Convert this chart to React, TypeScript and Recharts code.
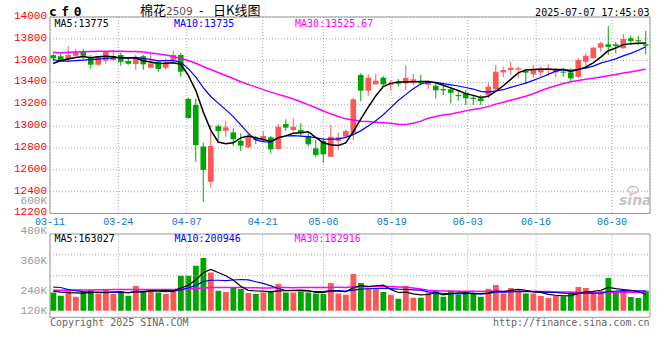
import React from 'react';
import {
  ComposedChart, Bar, Line, XAxis, YAxis, CartesianGrid,
  ReferenceArea, ReferenceLine, Cell,
} from 'recharts';

// ---------------- data ----------------
const dates = [
  '03-11','03-12','03-13','03-14','03-17','03-18','03-19','03-20','03-21','03-24',
  '03-25','03-26','03-27','03-28','03-31','04-01','04-02','04-03','04-07','04-08',
  '04-09','04-10','04-11','04-14','04-15','04-16','04-17','04-18','04-21','04-22',
  '04-23','04-24','04-25','04-28','04-29','04-30','05-06','05-07','05-08','05-09',
  '05-12','05-13','05-14','05-15','05-16','05-19','05-20','05-21','05-22','05-23',
  '05-26','05-27','05-28','05-29','05-30','06-03','06-04','06-05','06-06','06-09',
  '06-10','06-11','06-12','06-13','06-16','06-17','06-18','06-19','06-20','06-23',
  '06-24','06-25','06-26','06-27','06-30','07-01','07-02','07-03','07-04','07-07',
];

const openPrices = [
  13650,13640,13615,13645,13689,13627,13563,13600,13606,13652,
  13597,13569,13640,13535,13590,13535,13609,13652,13249,13194,
  12814,12491,13000,12958,12943,12867,12805,12890,12882,12898,
  12791,13020,12965,12965,12910,12797,12865,12720,12867,12905,
  12940,13469,13325,13383,13444,13380,13407,13392,13398,13413,
  13380,13370,13340,13338,13285,13301,13260,13255,13285,13340,
  13493,13514,13517,13505,13475,13493,13521,13493,13499,13493,
  13453,13590,13622,13719,13750,13750,13713,13805,13787,13750,
];
const highPrices = [
  13668,13667,13734,13707,13707,13652,13643,13689,13698,13673,
  13622,13652,13652,13661,13600,13622,13689,13670,13261,13255,
  12848,13011,13015,13047,12980,12935,12935,12910,12955,12910,
  13020,13063,13072,13026,12935,12873,12894,13011,12940,12971,
  13260,13484,13475,13478,13459,13423,13432,13560,13478,13469,
  13420,13398,13377,13361,13325,13331,13285,13285,13398,13560,
  13545,13590,13545,13510,13560,13545,13567,13530,13535,13530,
  13627,13667,13728,13774,13918,13774,13844,13829,13829,13872,
];
const lowPrices = [
  13600,13590,13585,13636,13612,13526,13554,13572,13600,13554,
  13563,13517,13517,13535,13499,13517,13590,13453,13068,12674,
  12308,12436,12870,12903,12818,12772,12800,12834,12852,12751,
  12785,12958,12944,12910,12818,12715,12665,12715,12781,12900,
  12873,13230,13279,13383,13361,13325,13361,13331,13377,13377,
  13340,13255,13285,13209,13233,13194,13194,13194,13255,13331,
  13448,13469,13444,13385,13444,13453,13462,13448,13453,13414,
  13444,13530,13619,13682,13652,13667,13713,13743,13743,13658,
];
const closePrices = [
  13622,13600,13652,13677,13645,13563,13640,13682,13643,13590,
  13572,13631,13566,13576,13524,13585,13652,13499,13075,12827,
  12600,12818,12955,12989,12880,12821,12900,12875,12910,12788,
  12995,12986,12995,12935,12834,12736,12742,12903,12898,12955,
  13246,13325,13444,13416,13383,13392,13389,13441,13429,13392,
  13400,13328,13328,13306,13275,13255,13248,13230,13361,13499,
  13514,13535,13530,13490,13524,13530,13530,13524,13490,13438,
  13606,13645,13719,13759,13725,13734,13798,13780,13777,13737,
];

const ma5Price = [
  13574,13601,13615,13629,13639,13627,13635,13641,13635,13624,
  13625,13624,13600,13587,13574,13576,13581,13567,13467,13328,
  13131,12964,12855,12838,12848,12893,12909,12893,12877,12859,
  12894,12911,12935,12940,12949,12897,12848,12830,12823,12847,
  12949,13065,13174,13277,13363,13392,13405,13404,13407,13409,
  13410,13398,13375,13351,13327,13298,13282,13263,13274,13319,
  13370,13428,13488,13514,13519,13522,13521,13520,13520,13502,
  13518,13541,13580,13633,13691,13716,13747,13755,13759,13761,
];
const ma10Price = [
  13610,13595,13595,13600,13605,13610,13615,13620,13625,13631,
  13626,13630,13621,13611,13599,13601,13602,13584,13527,13451,
  13354,13272,13211,13152,13088,13012,12936,12874,12858,12854,
  12893,12910,12914,12909,12904,12895,12880,12882,12881,12898,
  12923,12957,13002,13050,13105,13170,13235,13289,13342,13386,
  13401,13401,13390,13379,13368,13354,13340,13319,13312,13323,
  13334,13355,13375,13394,13419,13446,13474,13504,13517,13511,
  13520,13531,13550,13577,13597,13617,13644,13667,13696,13726,
];
const ma30Price = [
  13677,13670,13678,13679,13681,13684,13686,13686,13686,13686,
  13684,13684,13679,13670,13661,13652,13638,13620,13601,13576,
  13546,13519,13492,13464,13437,13407,13383,13360,13335,13312,
  13291,13271,13249,13224,13197,13169,13139,13113,13089,13067,
  13057,13046,13042,13037,13032,13026,13017,13015,13027,13046,
  13072,13089,13102,13112,13126,13140,13152,13164,13179,13202,
  13220,13238,13256,13274,13297,13324,13350,13371,13390,13406,
  13418,13429,13438,13450,13461,13473,13486,13497,13509,13521,
];

// volumes in thousands (K)
const volumesK = [
  183,150,217,140,193,207,173,207,167,193,
  150,247,200,217,183,167,217,350,350,450,
  527,383,200,187,237,217,177,167,183,200,
  267,183,183,193,183,173,167,277,173,160,
  367,277,227,217,187,160,120,247,130,130,
  183,207,140,197,160,187,173,140,217,257,
  173,227,193,173,173,147,127,153,143,187,
  237,227,173,200,327,177,183,137,127,200,
];
const ma5VolK = [
  195,185,180,178,176.6,181.4,186,184,189.4,189.4,
  178,192.8,191.4,201.4,199.4,202.8,196.8,226.8,253.4,306.8,
  378.8,412,382,349.4,306.8,244.8,203.6,197,196.2,188.8,
  198.8,200,203.2,205.2,201.8,183,179.8,198.6,194.6,190,
  228.8,250.8,240.8,249.6,255,213.6,182.2,186.2,168.8,157.4,
  162,179.4,158,171.4,177.4,178.2,171.4,171.4,175.4,194.8,
  192,202.8,213.4,204.6,187.8,182.6,162.6,154.6,148.6,151.4,
  169.4,189.4,193.4,204.8,232.8,220.8,212,204.8,190.2,164.8,
];
const ma10VolK = [
  236,232,212,200,190,185,182,181,182,183,
  179.7,189.4,187.7,195.4,194.4,190.4,194.8,209.1,227.4,253.1,
  290.8,304.4,304.4,301.4,306.8,311.8,307.8,289.5,272.8,247.8,
  221.8,201.8,200.1,200.7,195.3,190.9,189.9,200.9,199.9,195.9,
  205.9,215.3,219.7,222.1,222.5,221.2,216.5,213.5,209.2,206.2,
  187.8,180.8,172.1,170.1,167.4,170.1,175.4,164.7,173.4,186.1,
  185.1,187.1,192.4,190,191.3,187.3,182.7,184,176.6,169.6,
  176,176,174,176.7,192.1,195.1,200.7,199.1,197.5,198.8,
];
const ma30VolK = [
  205,205,206,206,207,208,210,210,211,211,
  211,212,212,212,212,212,213,216,219,223,
  228,231,232,232,233,232,230,229,228,228,
  230.8,231.9,230.7,232.5,232.2,231,230.8,233.2,233.4,232.3,
  239.5,240.5,241.4,241.4,241.5,241.3,238.1,234.6,227.3,216.6,
  205.2,199.3,197.3,197.6,195.1,194.1,193.9,193,194.2,196.1,
  192.9,194.4,194.7,194.1,193.7,192.9,191.5,187.4,187.1,188,
  183.6,182,180.2,179.6,184.3,184.8,186.9,183.3,183.2,185.5,
];

const dateTickLabels = ['03-11','03-24','04-07','04-21','05-06','05-19','06-03','06-16','06-30'];
const priceTicks = [14000,13800,13600,13400,13200,13000,12800,12600,12400,12200];
const volLabelTicksK = [600,480,360,240,120];

const titleSymbol = 'cf0';
const titleName = '棉花';
const titleCode = '2509';
const titleDash = '-';
const titleRest = '日K线图';
const timestamp = '2025-07-07 17:45:03';
const priceLegend = ['MA5:13775', 'MA10:13735', 'MA30:13525.67'];
const volLegend = ['MA5:163027', 'MA10:200946', 'MA30:182916'];
const footerLeft = 'Copyright 2025 SINA.COM';
const footerRight = 'http://finance.sina.com.cn';

// ---------------- style ----------------
const RED = '#ff5656';
const GREEN = '#00a600';
const C_MA5 = '#000000';
const C_MA10 = '#0000ff';
const C_MA30 = '#ff00ff';
const GRID = '#a8a8a8';
const FRAME = '#999999';
const MONO = '"DejaVu Sans Mono", monospace';
const AXMONO = '"Liberation Mono", "DejaVu Sans Mono", monospace';
const CJK = '"Noto Sans CJK SC", sans-serif';

const SLOTS = 80;            // trading days on the x axis
const CENTER = 0.43;         // candle centre inside its slot
const GRID_SPAN = 79;        // sina spreads the date grid over n-1 intervals
const VOL_TOP = 190;         // page y of the volume svg
const VOL_LABEL_FLOOR = 120.3;

const rows = dates.map((d, i) => ({
  x: i + CENTER,
  date: d,
  open: openPrices[i],
  high: highPrices[i],
  low: lowPrices[i],
  close: closePrices[i],
  range: [lowPrices[i], highPrices[i]],
  up: closePrices[i] >= openPrices[i],
  ma5: ma5Price[i],
  ma10: ma10Price[i],
  ma30: ma30Price[i],
  vol: volumesK[i],
  vma5: ma5VolK[i],
  vma10: ma10VolK[i],
  vma30: ma30VolK[i],
}));

const dateTickPos = dateTickLabels.map((l) => (dates.indexOf(l) * SLOTS) / GRID_SPAN);

const Candle = (props: any) => {
  const { x, y, width, height, payload } = props;
  if (!payload || height == null) return null;
  const { open, close, high, low, up } = payload;
  const color = up ? RED : GREEN;
  const span = high - low || 1;
  const toY = (v: number) => y + ((high - v) / span) * height;
  const cx = x + width / 2;
  const top = toY(Math.max(open, close));
  const bot = toY(Math.min(open, close));
  return (
    <g>
      <line x1={cx} x2={cx} y1={y} y2={y + height} stroke={color} strokeWidth={1} />
      <rect x={x} y={top} width={width} height={Math.max(bot - top, 1)} fill={color} />
    </g>
  );
};

const PriceTick = (props: any) => {
  const { y, payload } = props;
  return (
    <text x={47} y={y - 2} dy="0.36em" textAnchor="end" fill="#ff0000" fontSize={11} fontFamily={AXMONO}>
      {payload.value}
    </text>
  );
};

const DateTick = (props: any) => {
  const { x, index } = props;
  return (
    <text x={x} y={224.5} textAnchor="middle" fill="#0a74d4" fontSize={10} fontFamily={AXMONO}>
      {dateTickLabels[index]}
    </text>
  );
};

const VolTick = (props: any) => {
  const { y, payload } = props;
  return (
    <text x={47} y={Math.min(y, VOL_LABEL_FLOOR)} dy="0.36em" textAnchor="end" fill="#9a9a9a" fontSize={11} fontFamily={AXMONO}>
      {`${payload.value}K`}
    </text>
  );
};

export default function App() {
  return (
    <div style={{ position: 'absolute', left: 0, top: 0, width: 660, height: 360, background: '#fff', overflow: 'hidden' }}>
      <div style={{ position: 'absolute', left: 0, top: 0 }}>
        <ComposedChart width={660} height={236} data={rows} margin={{ top: 17, right: 10, bottom: 0, left: 0 }}>
          <CartesianGrid stroke={GRID} strokeDasharray="1 2" />
          <XAxis
            type="number" dataKey="x" domain={[0, SLOTS]} ticks={dateTickPos} interval={0}
            height={22.5} axisLine={false} tickLine={false} tick={DateTick} allowDataOverflow
          />
          <YAxis
            type="number" domain={[12200, 14000]} ticks={priceTicks} interval={0} width={50}
            axisLine={false} tickLine={false} tick={PriceTick} allowDataOverflow
          />
          <ReferenceArea x1={0} x2={SLOTS} y1={12200} y2={14000} fill="none" fillOpacity={0} stroke={FRAME} strokeOpacity={1} />
          <Bar dataKey="range" barSize={5.6} shape={Candle} isAnimationActive={false} />
          <Line dataKey="ma30" stroke={C_MA30} strokeWidth={1.5} dot={false} activeDot={false} isAnimationActive={false} type="linear" />
          <Line dataKey="ma10" stroke={C_MA10} strokeWidth={1.2} dot={false} activeDot={false} isAnimationActive={false} type="linear" />
          <Line dataKey="ma5" stroke={C_MA5} strokeWidth={1.5} dot={false} activeDot={false} isAnimationActive={false} type="linear" />
        </ComposedChart>
      </div>

      <div style={{ position: 'absolute', left: 0, top: VOL_TOP }}>
        <ComposedChart width={660} height={150} data={rows} margin={{ top: 44, right: 10, bottom: 22.7, left: 0 }}>
          <XAxis type="number" dataKey="x" domain={[0, SLOTS]} hide allowDataOverflow />
          <YAxis yAxisId="vol" type="number" domain={[-66, 767]} hide allowDataOverflow />
          <YAxis
            yAxisId="lab" type="number" domain={[132.8, 466]} ticks={volLabelTicksK} interval={0} width={50}
            axisLine={false} tickLine={false} tick={VolTick} allowDataOverflow
          />
          <YAxis yAxisId="grid" type="number" domain={[0, 4]} hide allowDataOverflow />
          {dateTickPos.map((t, i) => (
            <ReferenceLine key={`v${i}`} yAxisId="grid" x={t} stroke={GRID} strokeDasharray="1 2" />
          ))}
          <ReferenceLine yAxisId="grid" y={2} stroke={GRID} strokeDasharray="1 2" />
          <ReferenceLine yAxisId="grid" y={3} stroke={GRID} strokeDasharray="1 2" />
          <ReferenceArea yAxisId="grid" x1={0} x2={SLOTS} y1={0} y2={4} fill="none" fillOpacity={0} stroke={FRAME} strokeOpacity={1} />
          <Bar yAxisId="vol" dataKey="vol" barSize={5.8} isAnimationActive={false}>
            {rows.map((r, i) => (
              <Cell key={i} fill={r.up ? RED : GREEN} />
            ))}
          </Bar>
          <Line yAxisId="vol" dataKey="vma30" stroke={C_MA30} strokeWidth={1.5} dot={false} activeDot={false} isAnimationActive={false} type="linear" />
          <Line yAxisId="vol" dataKey="vma10" stroke={C_MA10} strokeWidth={1.2} dot={false} activeDot={false} isAnimationActive={false} type="linear" />
          <Line yAxisId="vol" dataKey="vma5" stroke={C_MA5} strokeWidth={1.2} dot={false} activeDot={false} isAnimationActive={false} type="linear" />
        </ComposedChart>
      </div>

      <svg width={660} height={360} style={{ position: 'absolute', left: 0, top: 0, pointerEvents: 'none' }}>
        <text x={49} y={16} fontSize={13} fontWeight="bold" letterSpacing={4.5} fontFamily={MONO} fill="#000">{titleSymbol}</text>
        <text x={140} y={15} fontSize={13} fontFamily={CJK} fill="#000">{titleName}</text>
        <text x={166} y={15} fontSize={10.5} fontFamily='"DejaVu Sans", sans-serif' fill="#555">{titleCode}</text>
        <text x={199} y={15} fontSize={13} fontFamily={CJK} fill="#000">{titleDash}</text>
        <text x={213} y={15} fontSize={13} fontFamily={CJK} fill="#000">{titleRest}</text>
        <text x={649.5} y={16} textAnchor="end" fontSize={10} fontFamily={MONO} fill="#000">{timestamp}</text>

        <text x={54.5} y={26.5} fontSize={10} fontFamily={MONO} fill={C_MA5}>{priceLegend[0]}</text>
        <text x={174} y={26.5} fontSize={10} fontFamily={MONO} fill={C_MA10}>{priceLegend[1]}</text>
        <text x={295} y={26.5} fontSize={10} fontFamily={MONO} fill={C_MA30}>{priceLegend[2]}</text>

        <text x={54.5} y={241.5} fontSize={10} fontFamily={MONO} fill={C_MA5}>{volLegend[0]}</text>
        <text x={174.5} y={241.5} fontSize={10} fontFamily={MONO} fill={C_MA10}>{volLegend[1]}</text>
        <text x={294.5} y={241.5} fontSize={10} fontFamily={MONO} fill={C_MA30}>{volLegend[2]}</text>

        <text x={619} y={205} fontSize={14} fontWeight="bold" fontStyle="italic" fontFamily='"DejaVu Sans", sans-serif' fill="#c4c4c4">sina</text>
        <ellipse cx={633} cy={190} rx={5} ry={3.5} fill="none" stroke="#e2b4b4" strokeWidth={1.5} />

        <text x={50} y={325.5} fontSize={10} fontFamily={MONO} fill="#666">{footerLeft}</text>
        <text x={649.5} y={325.5} textAnchor="end" fontSize={10} fontFamily={MONO} fill="#666">{footerRight}</text>
      </svg>
    </div>
  );
}
